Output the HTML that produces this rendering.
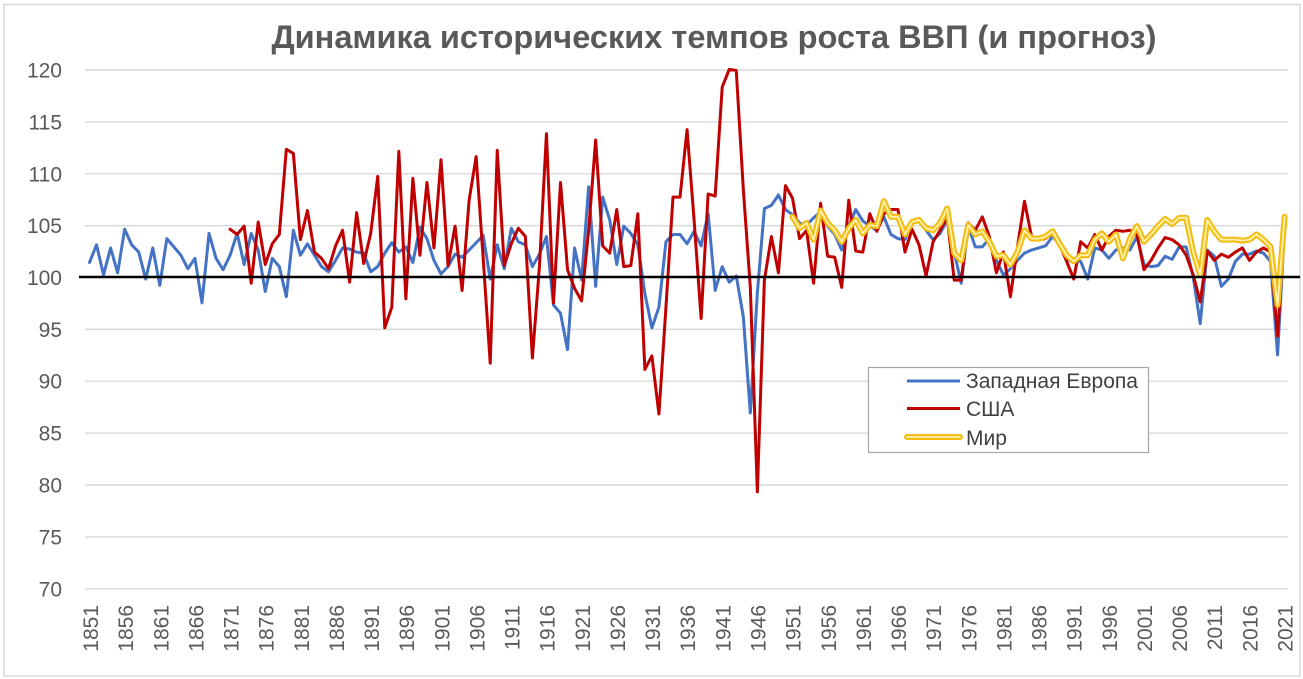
<!DOCTYPE html>
<html>
<head>
<meta charset="utf-8">
<style>
  html,body{margin:0;padding:0;background:#fff;}
  svg{display:block;}
  text{font-family:"Liberation Sans","DejaVu Sans",sans-serif;}
</style>
</head>
<body>
<svg width="1303" height="679" viewBox="0 0 1303 679" xmlns="http://www.w3.org/2000/svg">
  <rect x="0" y="0" width="1303" height="679" fill="#fff"/>
  <rect x="4" y="4.5" width="1296" height="671.5" fill="#fff" stroke="#d9d9d9" stroke-width="1.5"/>

  <!-- Title -->
  <text x="714" y="48" text-anchor="middle" font-size="32" font-weight="bold" fill="#595959" textLength="885" lengthAdjust="spacingAndGlyphs">Динамика исторических темпов роста ВВП (и прогноз)</text>

  <!-- Grid lines -->
  <g stroke="#d9d9d9" stroke-width="1.4">
    <line x1="85" y1="70" x2="1288" y2="70"/>
    <line x1="85" y1="121.9" x2="1288" y2="121.9"/>
    <line x1="85" y1="173.8" x2="1288" y2="173.8"/>
    <line x1="85" y1="225.7" x2="1288" y2="225.7"/>
    <line x1="85" y1="329.3" x2="1288" y2="329.3"/>
    <line x1="85" y1="381.2" x2="1288" y2="381.2"/>
    <line x1="85" y1="433.1" x2="1288" y2="433.1"/>
    <line x1="85" y1="485" x2="1288" y2="485"/>
    <line x1="85" y1="536.9" x2="1288" y2="536.9"/>
    <line x1="85" y1="588.8" x2="1288" y2="588.8"/>
  </g>

  <!-- Y labels -->
  <g font-size="21" fill="#595959" text-anchor="end">
    <text x="62" y="77.5">120</text>
    <text x="62" y="129.4">115</text>
    <text x="62" y="181.3">110</text>
    <text x="62" y="233.2">105</text>
    <text x="62" y="285">100</text>
    <text x="62" y="336.8">95</text>
    <text x="62" y="388.7">90</text>
    <text x="62" y="440.6">85</text>
    <text x="62" y="492.5">80</text>
    <text x="62" y="544.4">75</text>
    <text x="62" y="596.3">70</text>
  </g>

  <!-- X labels -->
  <g font-size="21" fill="#595959" text-anchor="end">
    <text transform="translate(98,605) rotate(-90)">1851</text>
    <text transform="translate(133.1,605) rotate(-90)">1856</text>
    <text transform="translate(168.3,605) rotate(-90)">1861</text>
    <text transform="translate(203.4,605) rotate(-90)">1866</text>
    <text transform="translate(238.5,605) rotate(-90)">1871</text>
    <text transform="translate(273.7,605) rotate(-90)">1876</text>
    <text transform="translate(308.8,605) rotate(-90)">1881</text>
    <text transform="translate(343.9,605) rotate(-90)">1886</text>
    <text transform="translate(379.1,605) rotate(-90)">1891</text>
    <text transform="translate(414.2,605) rotate(-90)">1896</text>
    <text transform="translate(449.3,605) rotate(-90)">1901</text>
    <text transform="translate(484.4,605) rotate(-90)">1906</text>
    <text transform="translate(519.6,605) rotate(-90)">1911</text>
    <text transform="translate(554.7,605) rotate(-90)">1916</text>
    <text transform="translate(589.8,605) rotate(-90)">1921</text>
    <text transform="translate(625,605) rotate(-90)">1926</text>
    <text transform="translate(660.1,605) rotate(-90)">1931</text>
    <text transform="translate(695.2,605) rotate(-90)">1936</text>
    <text transform="translate(730.4,605) rotate(-90)">1941</text>
    <text transform="translate(765.5,605) rotate(-90)">1946</text>
    <text transform="translate(800.6,605) rotate(-90)">1951</text>
    <text transform="translate(835.8,605) rotate(-90)">1956</text>
    <text transform="translate(870.9,605) rotate(-90)">1961</text>
    <text transform="translate(906,605) rotate(-90)">1966</text>
    <text transform="translate(941.2,605) rotate(-90)">1971</text>
    <text transform="translate(976.3,605) rotate(-90)">1976</text>
    <text transform="translate(1011.4,605) rotate(-90)">1981</text>
    <text transform="translate(1046.6,605) rotate(-90)">1986</text>
    <text transform="translate(1081.7,605) rotate(-90)">1991</text>
    <text transform="translate(1116.8,605) rotate(-90)">1996</text>
    <text transform="translate(1152,605) rotate(-90)">2001</text>
    <text transform="translate(1187.1,605) rotate(-90)">2006</text>
    <text transform="translate(1222.2,605) rotate(-90)">2011</text>
    <text transform="translate(1257.4,605) rotate(-90)">2016</text>
    <text transform="translate(1292.5,605) rotate(-90)">2021</text>
  </g>

  <!-- Series -->
  <g transform="translate(89.5,277) scale(7.03,-10.38)" fill="none" stroke-linejoin="round" stroke-linecap="round">
    <polyline vector-effect="non-scaling-stroke" stroke="#4472C4" stroke-width="3" points="0,1.4 1,3.1 2,0.2 3,2.8 4,0.4 5,4.6 6,3.1 7,2.4 8,-0.2 9,2.8 10,-0.8 11,3.7 12,2.9 13,2.1 14,0.8 15,1.8 16,-2.5 17,4.2 18,1.8 19,0.7 20,2.1 21,4.2 22,1.2 23,4.2 24,2.6 25,-1.4 26,1.8 27,1.0 28,-1.9 29,4.5 30,2.1 31,3.2 32,2.1 33,1.0 34,0.5 35,1.6 36,2.8 37,2.7 38,2.4 39,2.3 40,0.5 41,1.0 42,2.3 43,3.3 44,2.4 45,2.9 46,1.4 47,4.8 48,3.7 49,1.6 50,0.3 51,1.0 52,2.2 53,1.9 54,2.6 55,3.3 56,4.0 57,-0.2 58,3.1 59,0.8 60,4.7 61,3.4 62,3.1 63,1.0 64,2.2 65,3.9 66,-2.7 67,-3.5 68,-7.0 69,2.8 70,-0.3 71,8.7 72,-0.9 73,7.7 74,5.5 75,1.2 76,4.9 77,4.2 78,3.1 79,-1.6 80,-4.9 81,-2.9 82,3.4 83,4.1 84,4.1 85,3.2 86,4.4 87,3.0 88,6.1 89,-1.3 90,1.0 91,-0.5 92,0.1 93,-3.8 94,-13.1 95,-1.5 96,6.6 97,6.9 98,7.9 99,6.5 100,6.0 101,5.2 102,5.0 103,5.7 104,6.3 105,4.9 106,4.1 107,2.6 108,4.9 109,6.5 110,5.4 111,4.9 112,4.5 113,5.8 114,4.1 115,3.7 116,3.6 117,5.4 118,5.5 119,4.5 120,3.6 121,4.2 122,5.5 123,2.4 124,-0.6 125,4.9 126,2.9 127,2.9 128,3.7 129,1.6 130,0.2 131,0.8 132,1.6 133,2.3 134,2.6 135,2.8 136,3.0 137,3.9 138,3.1 139,1.6 140,1.6 141,1.5 142,-0.2 143,2.8 144,2.6 145,1.8 146,2.6 147,2.8 148,2.6 149,3.9 150,1.2 151,1.0 152,1.1 153,2.0 154,1.7 155,2.9 156,2.9 157,0.0 158,-4.5 159,2.6 160,2.0 161,-0.9 162,-0.2 163,1.5 164,2.2 165,2.2 166,2.5 167,2.3 168,1.5 169,-7.5 170,4.7"/>
    <polyline vector-effect="non-scaling-stroke" stroke="#C00000" stroke-width="3" points="20,4.6 21,4.1 22,4.9 23,-0.6 24,5.3 25,1.2 26,3.2 27,4.1 28,12.3 29,11.9 30,3.6 31,6.4 32,2.4 33,1.8 34,0.8 35,3.0 36,4.5 37,-0.5 38,6.2 39,1.3 40,4.2 41,9.7 42,-4.9 43,-2.9 44,12.1 45,-2.1 46,9.5 47,2.1 48,9.1 49,2.8 50,11.3 51,1.1 52,4.9 53,-1.3 54,7.4 55,11.6 56,1.8 57,-8.3 58,12.2 59,1.1 60,3.2 61,4.7 62,3.9 63,-7.8 64,1.0 65,13.8 66,-2.5 67,9.1 68,0.7 69,-1.1 70,-2.3 71,4.5 72,13.2 73,3.0 74,2.3 75,6.5 76,1.0 77,1.1 78,6.1 79,-8.9 80,-7.6 81,-13.2 82,-2.9 83,7.7 84,7.7 85,14.2 86,5.5 87,-4.0 88,8.0 89,7.8 90,18.3 91,20.0 92,19.9 93,8.5 94,-1.0 95,-20.7 96,-0.3 97,3.9 98,0.4 99,8.8 100,7.6 101,3.7 102,4.5 103,-0.6 104,7.1 105,2.0 106,1.9 107,-1.0 108,7.4 109,2.5 110,2.4 111,6.1 112,4.4 113,6.1 114,6.5 115,6.5 116,2.4 117,4.6 118,3.1 119,0.1 120,3.4 121,4.5 122,5.8 123,-0.3 124,-0.3 125,5.2 126,4.5 127,5.8 128,3.9 129,0.4 130,2.4 131,-1.9 132,2.9 133,7.3 134,3.9 135,3.6 136,3.7 137,4.2 138,3.1 139,1.5 140,-0.2 141,3.4 142,2.8 143,4.1 144,2.6 145,3.9 146,4.5 147,4.4 148,4.5 149,4.1 150,0.7 151,1.6 152,2.8 153,3.8 154,3.6 155,3.1 156,2.1 157,0.2 158,-2.4 159,2.5 160,1.6 161,2.2 162,1.9 163,2.4 164,2.8 165,1.6 166,2.4 167,2.8 168,2.4 169,-5.7 170,4.9"/>
    <polyline vector-effect="non-scaling-stroke" stroke="#F2BE14" stroke-width="6" points="100,5.8 101,4.7 102,5.2 103,3.6 104,6.4 105,5.2 106,4.5 107,3.4 108,4.7 109,5.5 110,4.2 111,5.0 112,4.9 113,7.3 114,5.8 115,5.8 116,4.1 117,5.3 118,5.5 119,4.7 120,4.5 121,5.2 122,6.6 123,2.3 124,1.6 125,5.0 126,4.1 127,4.4 128,3.4 129,2.0 130,2.1 131,1.2 132,2.4 133,4.5 134,3.7 135,3.7 136,3.9 137,4.4 138,3.2 139,2.1 140,1.5 141,2.1 142,2.1 143,3.6 144,4.2 145,3.4 146,4.1 147,1.8 148,3.7 149,4.9 150,3.4 151,4.1 152,4.9 153,5.6 154,5.1 155,5.7 156,5.7 157,2.4 158,0.2 159,5.5 160,4.4 161,3.6 162,3.6 163,3.6 164,3.5 165,3.6 166,4.1 167,3.6 168,2.9 169,-2.7 170,5.8"/>
    <polyline vector-effect="non-scaling-stroke" stroke="#FFF1B0" stroke-width="1.8" points="100,5.8 101,4.7 102,5.2 103,3.6 104,6.4 105,5.2 106,4.5 107,3.4 108,4.7 109,5.5 110,4.2 111,5.0 112,4.9 113,7.3 114,5.8 115,5.8 116,4.1 117,5.3 118,5.5 119,4.7 120,4.5 121,5.2 122,6.6 123,2.3 124,1.6 125,5.0 126,4.1 127,4.4 128,3.4 129,2.0 130,2.1 131,1.2 132,2.4 133,4.5 134,3.7 135,3.7 136,3.9 137,4.4 138,3.2 139,2.1 140,1.5 141,2.1 142,2.1 143,3.6 144,4.2 145,3.4 146,4.1 147,1.8 148,3.7 149,4.9 150,3.4 151,4.1 152,4.9 153,5.6 154,5.1 155,5.7 156,5.7 157,2.4 158,0.2 159,5.5 160,4.4 161,3.6 162,3.6 163,3.6 164,3.5 165,3.6 166,4.1 167,3.6 168,2.9 169,-2.7 170,5.8"/>
  </g>

  <!-- 100 baseline -->
  <line x1="79" y1="277" x2="1300" y2="277" stroke="#000" stroke-width="2.6"/>

  <!-- Legend -->
  <rect x="868.5" y="367.5" width="280" height="85" fill="#fff" stroke="#a6a6a6" stroke-width="1.2"/>
  <line x1="907" y1="381" x2="960" y2="381" stroke="#4472C4" stroke-width="3"/>
  <line x1="907" y1="408.5" x2="960" y2="408.5" stroke="#C00000" stroke-width="3"/>
  <line x1="907" y1="437" x2="960" y2="437" stroke="#F2BE14" stroke-width="6" stroke-linecap="round"/>
  <line x1="907" y1="437" x2="960" y2="437" stroke="#FFF1B0" stroke-width="1.8" stroke-linecap="round"/>
  <g font-size="21" fill="#404040">
    <text x="966" y="388" textLength="172" lengthAdjust="spacingAndGlyphs">Западная Европа</text>
    <text x="966" y="416">США</text>
    <text x="966" y="445">Мир</text>
  </g>
</svg>
</body>
</html>
